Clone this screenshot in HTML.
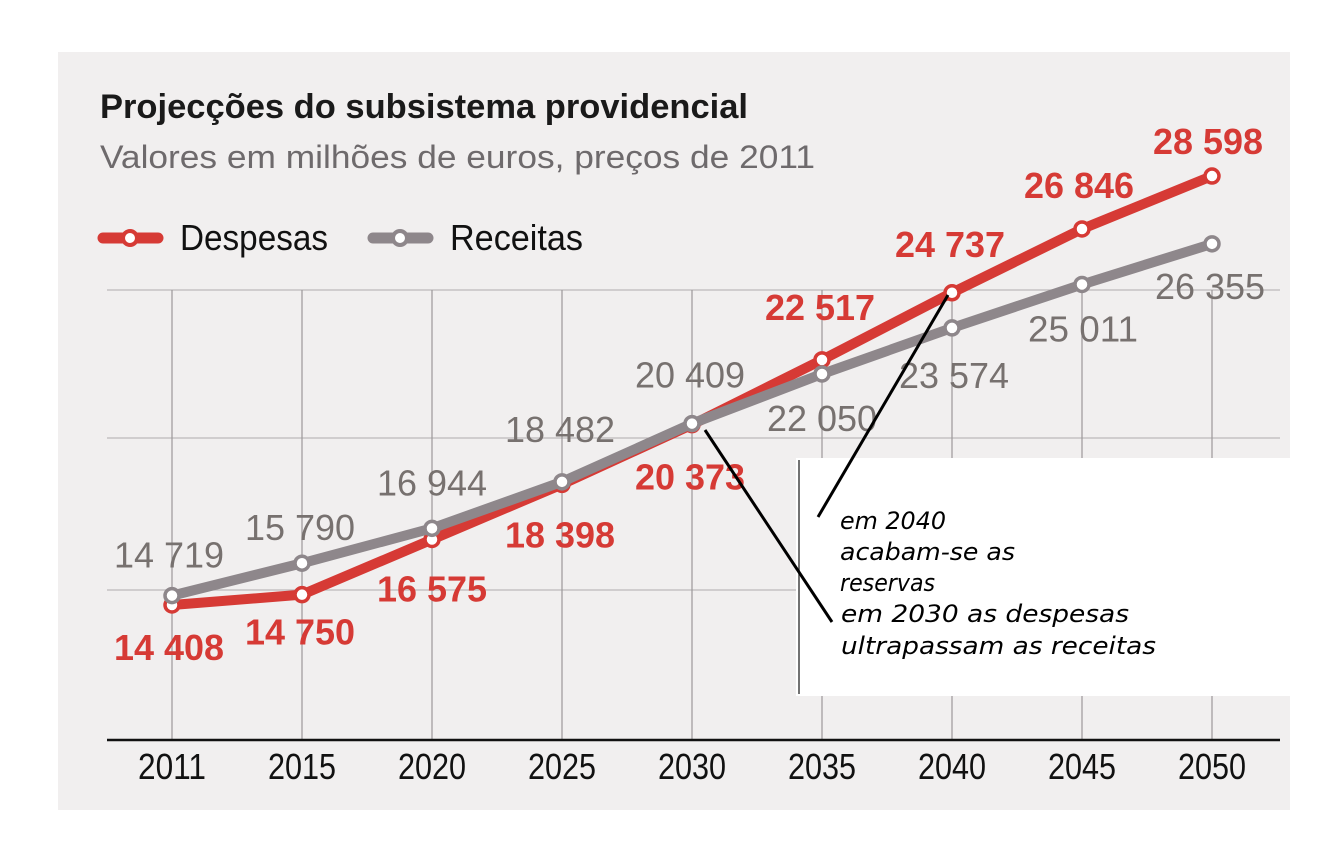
<!DOCTYPE html>
<html><head><meta charset="utf-8"><style>
body{margin:0;background:#fff;}
svg{display:block;}
.nar{font-family:"Liberation Sans",sans-serif;}
</style></head><body>
<svg width="1341" height="853" viewBox="0 0 1341 853">
<rect x="58" y="52" width="1232" height="758" fill="#f1efef"/>
<text x="100" y="118" class="nar" font-size="34" font-weight="bold" fill="#1a1a1a" textLength="648" lengthAdjust="spacingAndGlyphs">Projecções do subsistema providencial</text>
<text x="100" y="168" class="nar" font-size="32" fill="#6e6a6c" textLength="715" lengthAdjust="spacingAndGlyphs">Valores em milhões de euros, preços de 2011</text>
<g>
<line x1="103" y1="238" x2="158" y2="238" stroke="#d63a35" stroke-width="11" stroke-linecap="round"/>
<circle cx="130" cy="238" r="7" fill="#fff" stroke="#d63a35" stroke-width="4"/>
<text x="180" y="250" class="nar" font-size="36" fill="#111" textLength="148" lengthAdjust="spacingAndGlyphs">Despesas</text>
</g>
<g>
<line x1="373" y1="238" x2="428" y2="238" stroke="#8e878b" stroke-width="11" stroke-linecap="round"/>
<circle cx="400" cy="238" r="7" fill="#fff" stroke="#8e878b" stroke-width="4"/>
<text x="450" y="250" class="nar" font-size="36" fill="#111" textLength="133" lengthAdjust="spacingAndGlyphs">Receitas</text>
</g>
<g id="grid"></g>
<g id="series"></g>
<g id="labels"></g>
<g id="xaxis"></g>
<rect x="796" y="458" width="545" height="238" fill="#fff"/>
<line x1="799" y1="460" x2="799" y2="694" stroke="#444" stroke-width="1.5"/>
<line x1="818" y1="517" x2="948" y2="295" stroke="#000" stroke-width="3"/>
<line x1="705" y1="430" x2="832" y2="622" stroke="#000" stroke-width="3"/>
<g font-family="'DejaVu Sans','Liberation Sans',sans-serif" font-style="italic" font-size="24" fill="#000">
<text x="840" y="529" textLength="106" lengthAdjust="spacingAndGlyphs">em 2040</text>
<text x="840" y="560" textLength="175" lengthAdjust="spacingAndGlyphs">acabam-se as</text>
<text x="840" y="591" textLength="95" lengthAdjust="spacingAndGlyphs">reservas</text>
<text x="841" y="622" textLength="288" lengthAdjust="spacingAndGlyphs">em 2030 as despesas</text>
<text x="841" y="654" textLength="315" lengthAdjust="spacingAndGlyphs">ultrapassam as receitas</text>
</g>
</svg>
<script>
const years=["2011","2015","2020","2025","2030","2035","2040","2045","2050"];
const despesas=[14408,14750,16575,18398,20373,22517,24737,26846,28598];
const receitas=[14719,15790,16944,18482,20409,22050,23574,25011,26355];
const despesasLabels=["14 408","14 750","16 575","18 398","20 373","22 517","24 737","26 846","28 598"];
const receitasLabels=["14 719","15 790","16 944","18 482","20 409","22 050","23 574","25 011","26 355"];
const dOff=[[-3,43],[-2,38],[0,50],[-2,51],[-2,53],[-2,-52],[-2,-48],[-3,-43],[-4,-34]];
const rOff=[[-3,-40],[-2,-35],[0,-45],[-2,-52],[-2,-48],[0,45],[2,48],[1,45],[-2,43]];
const NS="http://www.w3.org/2000/svg";
function x(i){return 172+i*130;}
function y(v){return 605-(v-14408)*0.03023;}
function mk(tag,attrs,parent){const e=document.createElementNS(NS,tag);for(const k in attrs)e.setAttribute(k,attrs[k]);parent.appendChild(e);return e;}
const grid=document.getElementById('grid');
[290,438,590].forEach(gy=>{const l=mk('line',{x1:107,y1:gy,x2:1280,y2:gy,stroke:'#bdb9ba','stroke-width':1.2},grid);

});
years.forEach((yr,i)=>{const l=mk('line',{x1:x(i),y1:290,x2:x(i),y2:740,stroke:'#9c9899','stroke-width':1.2},grid);

});
const xa=document.getElementById('xaxis');
const base=mk('line',{x1:107,y1:740,x2:1280,y2:740,stroke:'#111','stroke-width':2.5},xa);


years.forEach((yr,i)=>{const t=mk('text',{x:x(i)-34,y:779,'class':'nar','font-size':36,fill:'#111',textLength:68,lengthAdjust:'spacingAndGlyphs'},xa);t.textContent=yr;

});
const sg=document.getElementById('series');
function series(vals,color,name){
 const pts=vals.map((v,i)=>x(i)+','+y(v)).join(' ');
 const pl=mk('polyline',{points:pts,fill:'none',stroke:color,'stroke-width':10,'stroke-linejoin':'round','stroke-linecap':'round'},sg);
 
 
 vals.forEach((v,i)=>{const c=mk('circle',{cx:x(i),cy:y(v),r:7,fill:'#fff',stroke:color,'stroke-width':3.5},sg);
 
 });
}
series(despesas,'#d63a35','despesas');
series(receitas,'#8e878b','receitas');
const lg=document.getElementById('labels');
function labels(vals,txt,off,color,name,bold){
 vals.forEach((v,i)=>{const t=mk('text',{x:x(i)+off[i][0]-55,y:y(v)+off[i][1]+12,'class':'nar','font-size':36,'font-weight':bold?'bold':'normal',fill:color,textLength:110,lengthAdjust:'spacingAndGlyphs'},lg);
 t.textContent=txt[i];
 
 });
}
labels(despesas,despesasLabels,dOff,'#d63a35','despesas',true);
labels(receitas,receitasLabels,rOff,'#77716f','receitas',false);
</script>
</body></html>
